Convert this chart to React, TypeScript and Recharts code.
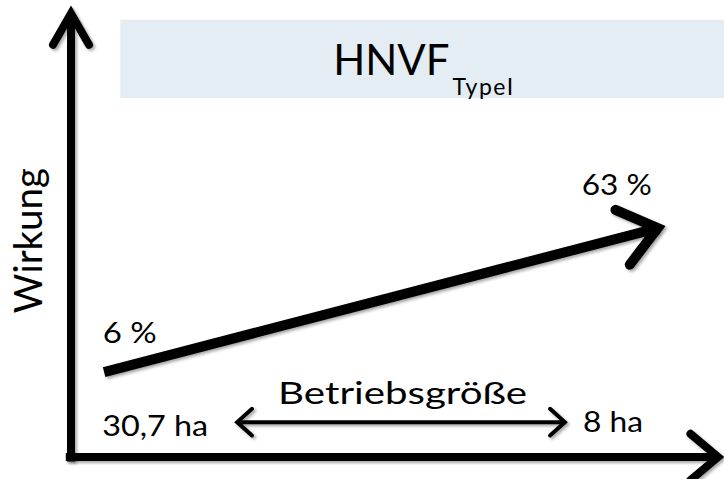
import { Line, LineChart, ReferenceArea, ReferenceDot, ReferenceLine, XAxis, YAxis } from 'recharts';

// schematic coordinates, 0–100 on both axes
const trendX = [5.1, 90.4];
const trendY = [19.0, 51.2];
const effectLabels = ['6 %', '63 %'];
const effectLabelX = [4.9, 78.7];
const effectLabelY = [25.5, 58.6];
const sizeLabels = ['30,7 ha', '8 ha'];
const sizeLabelX = [4.8, 78.9];
const sizeLabelY = [4.7, 5.6];
const sizeArrowX = [25.6, 76.1];
const sizeArrowY = [7.8, 7.8];
const titleBoxX = [7.6, 101];
const titleBoxY = [80.3, 97.8];

const trendData = trendX.map((x, i) => ({ x, y: trendY[i] }));

const FONT = 'Lato, "Open Sans", sans-serif';
const shadow = { filter: 'drop-shadow(2px 2px 1.5px rgba(0,0,0,0.35))' };
const textWidth = { '6 %': 54, '63 %': 70, '30,7 ha': 106, '8 ha': 60, 'Betriebsgröße': 249, Wirkung: 145 };

function chevron(tx, ty, fx, fy, len, ang) {
	const dx = tx - fx;
	const dy = ty - fy;
	const d = Math.hypot(dx, dy) || 1;
	const ux = dx / d;
	const uy = dy / d;
	const a = (ang * Math.PI) / 180;
	const w = (s) => {
		const c = Math.cos(s * a);
		const sn = Math.sin(s * a);
		const rx = ux * c - uy * sn;
		const ry = ux * sn + uy * c;
		return `${tx - len * rx},${ty - len * ry}`;
	};
	return `M${w(1)} L${tx},${ty} L${w(-1)}`;
}

function arrow(width, len, ang, both, shaft) {
	return (p) => {
		const { x1, y1, x2, y2 } = p;
		return (
			<g style={shadow}>
				{shaft && <line x1={x1} y1={y1} x2={x2} y2={y2} stroke="#000" strokeWidth={width} />}
				<path d={chevron(x2, y2, x1, y1, len, ang)} fill="none" stroke="#000" strokeWidth={width} strokeLinecap="round" strokeLinejoin="miter" />
				{both && <path d={chevron(x1, y1, x2, y2, len, ang)} fill="none" stroke="#000" strokeWidth={width} strokeLinecap="round" strokeLinejoin="miter" />}
			</g>
		);
	};
}

function textAt(value, size, anchor = 'start', rotate = 0) {
	return (p) => (
		<text
			x={p.cx}
			y={p.cy}
			fontFamily={FONT}
			fontSize={size}
			fill="#000"
			textAnchor={anchor}
			textLength={textWidth[value]}
			lengthAdjust="spacingAndGlyphs"
			transform={rotate ? `rotate(${rotate} ${p.cx} ${p.cy})` : undefined}
		>
			{value}
		</text>
	);
}

function titleShape(p) {
	return (
		<text x={p.cx} y={p.cy} fontFamily={FONT} fontSize={42} fill="#000">
			HNVF
			<tspan fontSize={23} dx={3} dy={20} letterSpacing={1.5}>TypeI</tspan>
		</text>
	);
}

export default function App() {
	return (
		<div style={{ position: 'absolute', left: 0, top: 0, background: '#fff' }}>
			<LineChart width={724} height={479} data={trendData} margin={{ top: 10, right: 4, bottom: 22, left: 71 }}>
				<XAxis type="number" dataKey="x" domain={[0, 100]} hide allowDataOverflow />
				<YAxis type="number" dataKey="y" domain={[0, 100]} hide allowDataOverflow />
				<ReferenceArea x1={titleBoxX[0]} x2={titleBoxX[1]} y1={titleBoxY[0]} y2={titleBoxY[1]} fill="#e4edf3" fillOpacity={1} stroke="none" ifOverflow="visible" />
				<ReferenceDot x={40.4} y={85.5} r={0} ifOverflow="visible" shape={titleShape} />
				<ReferenceLine segment={[{ x: 0, y: -1 }, { x: 0, y: 99.2 }]} ifOverflow="visible" shape={arrow(8, 36, 30, false, true)} />
				<ReferenceLine segment={[{ x: -0.8, y: 0 }, { x: 99.7, y: 0 }]} ifOverflow="visible" shape={arrow(8, 36, 40, false, true)} />
				<Line dataKey="y" stroke="#000" strokeWidth={10} dot={false} activeDot={false} isAnimationActive={false} style={shadow} />
				<ReferenceLine segment={trendData} ifOverflow="visible" shape={arrow(10, 46, 38, false, false)} />
				<ReferenceLine
					segment={[{ x: sizeArrowX[0], y: sizeArrowY[0] }, { x: sizeArrowX[1], y: sizeArrowY[1] }]}
					ifOverflow="visible"
					shape={arrow(4, 20, 42, true, true)}
				/>
				{effectLabels.map((t, i) => (
					<ReferenceDot key={t} x={effectLabelX[i]} y={effectLabelY[i]} r={0} ifOverflow="visible" shape={textAt(t, 29)} />
				))}
				{sizeLabels.map((t, i) => (
					<ReferenceDot key={t} x={sizeLabelX[i]} y={sizeLabelY[i]} r={0} ifOverflow="visible" shape={textAt(t, 29)} />
				))}
				<ReferenceDot x={51.1} y={11.9} r={0} ifOverflow="visible" shape={textAt('Betriebsgröße', 30, 'middle')} />
				<ReferenceDot x={-4.47} y={48.4} r={0} ifOverflow="visible" shape={textAt('Wirkung', 39, 'middle', -90)} />
			</LineChart>
		</div>
	);
}
